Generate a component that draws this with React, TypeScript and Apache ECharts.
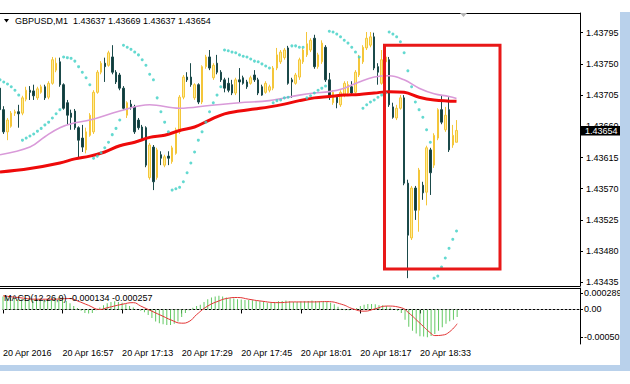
import React, { useEffect, useRef } from 'react';
import * as echarts from 'echarts';

// ---- axis / tick labels ----
const TIME_TICK_LABELS = ['20 Apr 2016', '20 Apr 16:57', '20 Apr 17:13', '20 Apr 17:29', '20 Apr 17:45', '20 Apr 18:01', '20 Apr 18:17', '20 Apr 18:33'];
const PRICE_TICKS = [1.43435, 1.4348, 1.43525, 1.4357, 1.43615, 1.4366, 1.43705, 1.4375, 1.43795];
const MACD_TICKS = [0.000289, 0, -0.000501];
const LAST_PRICE = 1.43654;
const HEADER = 'GBPUSD,M1  1.43637 1.43669 1.43637 1.43654';
const MACD_TITLE = 'MACD(12,26,9) -0.000134 -0.000257';

// ---- M1 candles (16:41 .. 18:43) ----
const OPEN = [
  1.43715, 1.43684, 1.43652, 1.4366, 1.43679, 1.43681, 1.43679, 1.43699, 1.43712, 1.43711,
  1.43701, 1.43709, 1.43717, 1.43702, 1.43722, 1.43741, 1.43753, 1.4372, 1.43694, 1.43679,
  1.43682, 1.43658, 1.43643, 1.43626, 1.43647, 1.43652, 1.43709, 1.43738, 1.43751, 1.43748,
  1.4376, 1.43738, 1.43734, 1.43715, 1.43676, 1.43692, 1.43688, 1.43669, 1.43659, 1.43658,
  1.43586, 1.4363, 1.43586, 1.43619, 1.43604, 1.43617, 1.43609, 1.43621, 1.43652, 1.43702,
  1.43731, 1.43731, 1.43701, 1.4372, 1.43695, 1.43746, 1.4376, 1.4373, 1.43751, 1.43738,
  1.43727, 1.43722, 1.4372, 1.43708, 1.43727, 1.4373, 1.43724, 1.43722, 1.43734, 1.43727,
  1.43717, 1.43709, 1.43712, 1.43715, 1.43744, 1.43753, 1.43759, 1.43773, 1.43727, 1.43722,
  1.43731, 1.43753, 1.43763, 1.4377, 1.43787, 1.43746, 1.43753, 1.43774, 1.43727, 1.43694,
  1.43702, 1.43691, 1.43705, 1.43708, 1.43717, 1.43709, 1.43734, 1.43753, 1.43773, 1.43777,
  1.43789, 1.43746, 1.43722, 1.43753, 1.43756, 1.43688, 1.43672, 1.43686, 1.43701, 1.43578,
  1.43499, 1.43571, 1.43539, 1.43575, 1.43565, 1.43626, 1.43604, 1.43643, 1.43684, 1.43655,
  1.43684, 1.43633, 1.43637,
];
const CLOSE = [
  1.43684, 1.43652, 1.43669, 1.43679, 1.43681, 1.43678, 1.43701, 1.43712, 1.43709, 1.43704,
  1.43714, 1.43717, 1.43701, 1.43722, 1.43756, 1.43751, 1.4372, 1.43686, 1.43676, 1.43673,
  1.43658, 1.4364, 1.4363, 1.43652, 1.43676, 1.43709, 1.43738, 1.43751, 1.43746, 1.43766,
  1.43738, 1.43724, 1.43715, 1.43686, 1.43694, 1.43688, 1.43652, 1.43658, 1.43643, 1.43604,
  1.43633, 1.4358, 1.43626, 1.43614, 1.43616, 1.43614, 1.43629, 1.43655, 1.43702, 1.43731,
  1.43727, 1.4372, 1.4372, 1.43695, 1.43746, 1.4376, 1.43744, 1.43748, 1.43738, 1.43727,
  1.43715, 1.43712, 1.43708, 1.43727, 1.43724, 1.43722, 1.43717, 1.4373, 1.43727, 1.43708,
  1.43705, 1.43722, 1.43717, 1.43744, 1.43763, 1.43767, 1.4377, 1.43722, 1.43724, 1.43734,
  1.43756, 1.4377, 1.43779, 1.43784, 1.43746, 1.43763, 1.4378, 1.43727, 1.43702, 1.43709,
  1.43694, 1.43709, 1.43722, 1.4372, 1.43708, 1.43738, 1.43759, 1.43774, 1.43787, 1.43789,
  1.43744, 1.43738, 1.43756, 1.4376, 1.43691, 1.43673, 1.43686, 1.43701, 1.43578, 1.43503,
  1.43571, 1.43539, 1.43597, 1.43564, 1.43629, 1.43593, 1.43647, 1.43684, 1.43666, 1.43676,
  1.43626, 1.43647, 1.43654,
];
const HIGH = [
  1.4372, 1.43689, 1.43672, 1.43682, 1.43684, 1.43691, 1.43704, 1.43717, 1.43718, 1.4372,
  1.43717, 1.4372, 1.4372, 1.43725, 1.4376, 1.43759, 1.43759, 1.43722, 1.43698, 1.43684,
  1.43685, 1.4366, 1.43662, 1.43658, 1.43679, 1.43712, 1.43741, 1.43754, 1.43759, 1.43769,
  1.43777, 1.43741, 1.43737, 1.43718, 1.43696, 1.43698, 1.43691, 1.43672, 1.43662, 1.4366,
  1.43636, 1.43633, 1.43629, 1.43624, 1.43619, 1.43624, 1.43632, 1.43658, 1.43705, 1.43734,
  1.43738, 1.43751, 1.43722, 1.43722, 1.43748, 1.43763, 1.4377, 1.43751, 1.43763, 1.43741,
  1.4373, 1.4373, 1.43727, 1.4373, 1.43744, 1.43733, 1.43727, 1.43733, 1.43741, 1.4373,
  1.4372, 1.43725, 1.4372, 1.43747, 1.43773, 1.4377, 1.43773, 1.43776, 1.4373, 1.43737,
  1.43759, 1.43773, 1.43796, 1.43787, 1.43792, 1.43766, 1.43784, 1.43777, 1.43737, 1.43712,
  1.43705, 1.43712, 1.43725, 1.43725, 1.43725, 1.43741, 1.43763, 1.43777, 1.43796, 1.43796,
  1.43795, 1.43751, 1.4377, 1.4377, 1.4376, 1.43694, 1.43691, 1.43705, 1.43705, 1.43583,
  1.43574, 1.43574, 1.436, 1.4358, 1.43632, 1.43629, 1.4365, 1.43686, 1.43705, 1.43688,
  1.43702, 1.43662, 1.43669,
];
const LOW = [
  1.43681, 1.43649, 1.4364, 1.43658, 1.43675, 1.43658, 1.43676, 1.43696, 1.43698, 1.43698,
  1.43698, 1.43707, 1.43698, 1.43699, 1.4372, 1.43738, 1.43717, 1.43684, 1.43662, 1.43655,
  1.43655, 1.43614, 1.43623, 1.43621, 1.43645, 1.43649, 1.43707, 1.43735, 1.43724, 1.43746,
  1.43735, 1.43721, 1.43712, 1.43684, 1.43672, 1.43684, 1.43649, 1.43655, 1.4364, 1.43601,
  1.43583, 1.43568, 1.43583, 1.43604, 1.43601, 1.43604, 1.43606, 1.43619, 1.43649, 1.43699,
  1.43724, 1.43717, 1.43698, 1.43692, 1.43692, 1.43743, 1.43741, 1.43727, 1.43735, 1.43724,
  1.43709, 1.43709, 1.43705, 1.43705, 1.43694, 1.4372, 1.43714, 1.4372, 1.43724, 1.43705,
  1.43704, 1.43707, 1.43709, 1.43712, 1.43741, 1.4375, 1.43756, 1.4372, 1.43701, 1.4372,
  1.43727, 1.4375, 1.4376, 1.43767, 1.43743, 1.43743, 1.4375, 1.43724, 1.43698, 1.43691,
  1.43686, 1.43688, 1.43702, 1.43705, 1.43705, 1.43707, 1.43731, 1.4375, 1.4377, 1.43774,
  1.43741, 1.4372, 1.4372, 1.43741, 1.43688, 1.43671, 1.43669, 1.43684, 1.43575, 1.43441,
  1.43496, 1.43525, 1.43508, 1.43554, 1.43546, 1.43561, 1.436, 1.4364, 1.43663, 1.43652,
  1.43623, 1.43629, 1.43637,
];

// ---- Parabolic SAR, one dot per candle ----
const SAR = [
  1.43727, 1.43724, 1.43721, 1.43717, 1.43712, 1.43705, 1.4364, 1.43643, 1.43646, 1.43649,
  1.43653, 1.43657, 1.43662, 1.43666, 1.43672, 1.43678, 1.43684, 1.4376, 1.43759, 1.43758,
  1.43754, 1.43746, 1.43738, 1.4373, 1.4372, 1.43614, 1.43617, 1.43622, 1.43629, 1.43637,
  1.43648, 1.43657, 1.43669, 1.43777, 1.43774, 1.43771, 1.43767, 1.43763, 1.43756, 1.43748,
  1.43735, 1.43727, 1.43701, 1.43681, 1.43666, 1.43652, 1.43568, 1.4357, 1.43572, 1.4358,
  1.43593, 1.43607, 1.43623, 1.4364, 1.43652, 1.43666, 1.43681, 1.43694, 1.43705, 1.43717,
  1.4377, 1.43769, 1.43767, 1.43766, 1.43763, 1.43761, 1.4376, 1.43757, 1.43754, 1.43753,
  1.4375, 1.43747, 1.43744, 1.43694, 1.43697, 1.43698, 1.43701, 1.43702, 1.43776, 1.43776,
  1.43774, 1.43774, 1.43701, 1.43704, 1.43708, 1.43712, 1.43715, 1.43718, 1.43797, 1.43796,
  1.43793, 1.43789, 1.43784, 1.4378, 1.43774, 1.43767, 1.4376, 1.43686, 1.43691, 1.43695,
  1.43698, 1.43702, 1.43705, 1.43708, 1.43796, 1.43793, 1.43789, 1.43782, 1.43766, 1.4374,
  1.43717, 1.43695, 1.43684, 1.43673, 1.43655, 1.43637, 1.43441, 1.43444, 1.43457, 1.4347,
  1.43484, 1.43497, 1.43509,
];

// ---- moving averages, read at sample candles ----
const RED_MA_IDX = [0, 8, 16, 20, 24, 28, 32, 36, 40, 44, 48, 52, 56, 60, 64, 68, 72, 76, 80, 84, 88, 92, 96, 100, 104, 108, 112, 116, 122];
const RED_MA = [1.43594, 1.43599, 1.43607, 1.43613, 1.43617, 1.43623, 1.43632, 1.43637, 1.43644, 1.43647, 1.43654, 1.43659, 1.43669, 1.43678, 1.43682, 1.43685, 1.43688, 1.43692, 1.43697, 1.43701, 1.43703, 1.43705, 1.43706, 1.43708, 1.4371, 1.43709, 1.43702, 1.43698, 1.43696];
const PLUM_MA_IDX = [0, 8, 12, 16, 20, 24, 32, 40, 48, 56, 64, 72, 80, 84, 88, 92, 96, 100, 104, 108, 112, 116, 120, 122];
const PLUM_MA = [1.43619, 1.4363, 1.43645, 1.43658, 1.43665, 1.43669, 1.43682, 1.43691, 1.43686, 1.4369, 1.43694, 1.43697, 1.43705, 1.43708, 1.4371, 1.43715, 1.43724, 1.43731, 1.43733, 1.43727, 1.43715, 1.43707, 1.43703, 1.437];

// ---- MACD ----
const MACD_MAIN = [
  0.000234, 0.000222, 0.00021, 0.000197, 0.000185, 0.000185, 0.000185, 0.000185, 0.000185, 0.000185,
  0.000173, 0.000173, 0.000173, 0.000185, 0.00021, 0.000222, 0.00021, 0.000154, 0.000111, 0.000062,
  0.000025, -0.000025, -0.000062, -0.000074, -0.000062, -0.000012, 0.000037, 0.000074, 0.000111, 0.000136,
  0.000148, 0.000136, 0.000123, 0.000093, 0.000062, 0.000037, 0.0, -0.000025, -0.000049, -0.000099,
  -0.000154, -0.000216, -0.000247, -0.000265, -0.000278, -0.000278, -0.000259, -0.000216, -0.000136, -0.000062,
  -0.000012, 0.000031, 0.000062, 0.000086, 0.000136, 0.000185, 0.000216, 0.000234, 0.000247, 0.000234,
  0.000216, 0.000204, 0.000197, 0.000185, 0.000179, 0.000173, 0.000173, 0.000167, 0.00016, 0.000148,
  0.000136, 0.000123, 0.000123, 0.000136, 0.000148, 0.000154, 0.00016, 0.000148, 0.000136, 0.000136,
  0.000142, 0.000148, 0.000154, 0.00016, 0.000154, 0.000148, 0.000148, 0.000136, 0.000123, 0.000093,
  0.000049, 0.000012, -0.000012, -0.000012, 0.0, 0.000025, 0.000062, 0.000086, 0.000099, 0.000099,
  0.000093, 0.000074, 0.000074, 0.000062, 0.000037, 0.0, -0.000025, -0.000062, -0.000185, -0.000309,
  -0.000383, -0.000432, -0.000481, -0.000488, -0.000501, -0.00048, -0.000444, -0.000383, -0.000321, -0.000259,
  -0.00021, -0.000185, -0.000134,
];
const SIGNAL_IDX = [0, 4, 9, 13, 18, 20, 23, 26, 28, 32, 35, 37, 40, 43, 45, 48, 50, 52, 55, 58, 60, 63, 66, 69, 74, 78, 83, 87, 91, 94, 97, 100, 103, 107, 109, 112, 115, 116, 118, 120, 122];
const SIGNAL = [0.000247, 0.000216, 0.000185, 0.000185, 0.000197, 0.000154, 0.000074, 0.0, 0.000031, 0.000093, 0.000123, 0.000062, -0.000031, -0.000123, -0.000185, -0.000247, -0.000216, -0.000093, 0.000062, 0.000154, 0.000197, 0.000216, 0.000185, 0.000154, 0.000123, 0.000136, 0.000136, 0.000142, 0.000093, 0.000012, -0.000031, 0.000012, 0.000062, 0.000031, -0.000062, -0.000247, -0.000432, -0.00047, -0.000462, -0.0004, -0.000257];

// 156 one-minute slots from 16:41 (chart shift area included)
const SLOT_COUNT = 156;
const CATEGORIES = Array.from({ length: SLOT_COUNT }, (_, i) => {
  const m = 16 * 60 + 41 + i;
  return `${Math.floor(m / 60)}:${String(m % 60).padStart(2, '0')}`;
});

const FONT = '"Liberation Sans", Arial, sans-serif';

function buildGraphics(priceY: number | null) {
  const g: any[] = [
    { id: 'fTop', type: 'line', shape: { x1: 0, y1: 13.5, x2: 580.5, y2: 13.5 }, style: { stroke: '#000', lineWidth: 1 }, z: 10 },
    { id: 'fMacd', type: 'line', shape: { x1: 0, y1: 288.5, x2: 580.5, y2: 288.5 }, style: { stroke: '#000', lineWidth: 1 }, z: 10 },
    { id: 'bRight', type: 'rect', shape: { x: 620, y: 12, width: 10, height: 359 }, style: { fill: '#b9d1eb' }, z: 10 },
    { id: 'bBottom', type: 'rect', shape: { x: 0, y: 365, width: 630, height: 6 }, style: { fill: '#b9d1eb' }, z: 10 },
    { id: 'shift', type: 'polygon', shape: { points: [[460, 13], [467, 13], [463.5, 17]] }, style: { fill: '#b4b4b4' }, z: 10 },
    { id: 'tri', type: 'polygon', shape: { points: [[4, 19], [9, 19], [6.5, 22.5]] }, style: { fill: '#000' }, z: 10 },
    {
      id: 'header', type: 'text', x: 15, y: 21, z: 10,
      style: { text: HEADER, fill: '#000', fontSize: 9, fontFamily: FONT, verticalAlign: 'middle', align: 'left' },
    },
    {
      id: 'macdTitle', type: 'text', x: 4, y: 297.5, z: 10,
      style: { text: MACD_TITLE, fill: '#000', fontSize: 9, fontFamily: FONT, verticalAlign: 'middle', align: 'left' },
    },
    {
      id: 'box', type: 'rect', z: 11,
      shape: { x: 384.5, y: 45.3, width: 115.5, height: 223.7 },
      style: { fill: 'none', stroke: '#e81818', lineWidth: 3 },
    },
  ];
  if (priceY !== null) {
    g.push(
      { id: 'tagBg', type: 'rect', shape: { x: 581, y: priceY - 4.5, width: 39, height: 9.5 }, style: { fill: '#000' }, z: 20 },
      {
        id: 'tagText', type: 'text', x: 585, y: priceY + 0.3, z: 21,
        style: { text: LAST_PRICE.toFixed(5), fill: '#fff', fontSize: 9, fontFamily: FONT, verticalAlign: 'middle', align: 'left' },
      },
    );
  }
  return g;
}

function buildOption() {
  const candles = OPEN.map((o, i) => [o, CLOSE[i], LOW[i], HIGH[i]]);
  const showTime = (index: number) => index % 16 === 0 && index / 16 < TIME_TICK_LABELS.length;
  return {
    animation: false,
    backgroundColor: '#ffffff',
    textStyle: { fontFamily: FONT },
    grid: [
      { left: 0, right: 50, top: 13, height: 273 },
      { left: 0, right: 50, top: 288, height: 56 },
    ],
    xAxis: [
      {
        type: 'category', gridIndex: 0, data: CATEGORIES, boundaryGap: false,
        axisLine: { show: true, lineStyle: { color: '#000', width: 1 } },
        axisTick: { show: false }, axisLabel: { show: false }, splitLine: { show: false },
      },
      {
        type: 'category', gridIndex: 1, data: CATEGORIES, boundaryGap: false,
        axisLine: { show: true, lineStyle: { color: '#000', width: 1 } },
        axisTick: { show: true, length: 4, interval: (i: number) => showTime(i), lineStyle: { color: '#000' } },
        axisLabel: {
          show: true, interval: (i: number) => showTime(i), align: 'left', margin: 4,
          fontSize: 9, fontFamily: FONT, color: '#000',
          formatter: (_v: string, i: number) => (showTime(i) ? TIME_TICK_LABELS[i / 16] : ''),
        },
        splitLine: { show: false },
      },
    ],
    yAxis: [
      {
        type: 'value', gridIndex: 0, position: 'right', min: 1.434297, max: 1.438234, scale: true,
        axisLine: { show: true, lineStyle: { color: '#000', width: 1 } },
        axisTick: { show: true, length: 3, customValues: PRICE_TICKS, lineStyle: { color: '#000' } },
        axisLabel: {
          customValues: PRICE_TICKS, margin: 6, fontSize: 9, fontFamily: FONT, color: '#000',
          formatter: (v: number) => v.toFixed(5),
        },
        splitLine: { show: false },
      },
      {
        type: 'value', gridIndex: 1, position: 'right', min: -0.000622, max: 0.000387,
        axisLine: { show: true, lineStyle: { color: '#000', width: 1 } },
        axisTick: { show: true, length: 3, customValues: MACD_TICKS, lineStyle: { color: '#000' } },
        axisLabel: {
          customValues: MACD_TICKS, margin: 4, fontSize: 9, fontFamily: FONT, color: '#000',
          formatter: (v: number) => (v === 0 ? '0.00' : v.toFixed(6)),
        },
        splitLine: { show: false },
      },
    ],
    series: [
      {
        type: 'candlestick', xAxisIndex: 0, yAxisIndex: 0, data: candles, barWidth: 2, z: 2,
        itemStyle: {
          color: '#ffec94', borderColor: '#f4c63a',
          color0: '#113a3a', borderColor0: '#1b4a4a', borderWidth: 1,
        },
        markLine: {
          silent: true, symbol: ['none', 'none'], z: 1,
          data: [{ yAxis: LAST_PRICE }],
          lineStyle: { color: '#c8c8c8', width: 1, type: 'solid' },
          label: { show: false },
        },
      },
      {
        type: 'line', xAxisIndex: 0, yAxisIndex: 0, z: 3, symbol: 'none', smooth: 0.4,
        data: PLUM_MA_IDX.map((x, k) => [x, PLUM_MA[k]]),
        lineStyle: { color: '#d99ad9', width: 1.6 },
      },
      {
        type: 'line', xAxisIndex: 0, yAxisIndex: 0, z: 4, symbol: 'none', smooth: 0.4,
        data: RED_MA_IDX.map((x, k) => [x, RED_MA[k]]),
        lineStyle: { color: '#ee0a0a', width: 3 },
      },
      {
        type: 'scatter', xAxisIndex: 0, yAxisIndex: 0, z: 5, symbol: 'circle', symbolSize: 3,
        data: SAR.map((v, i) => [i, v]),
        itemStyle: { color: '#3ccfc4' },
      },
      {
        type: 'bar', xAxisIndex: 1, yAxisIndex: 1, z: 2, barWidth: 1,
        data: MACD_MAIN.map((v, i) => [i, v]),
        itemStyle: { color: '#63c963' },
        markLine: {
          silent: true, symbol: ['none', 'none'], z: 1,
          data: [{ yAxis: 0 }],
          lineStyle: { color: '#a8a8a8', width: 1, type: [2, 2] },
          label: { show: false },
        },
      },
      {
        type: 'line', xAxisIndex: 1, yAxisIndex: 1, z: 3, symbol: 'none', smooth: 0.5,
        data: SIGNAL_IDX.map((x, k) => [x, SIGNAL[k]]),
        lineStyle: { color: '#e23434', width: 1 },
      },
    ],
    graphic: buildGraphics(null),
  };
}

export default function App() {
  const ref = useRef<HTMLDivElement>(null);
  useEffect(() => {
    if (!ref.current) return;
    const chart = echarts.init(ref.current, null, { renderer: 'svg' });
    chart.setOption(buildOption() as any);
    // current-price tag on the price scale, placed with the axis scale
    const py = chart.convertToPixel({ yAxisIndex: 0 }, LAST_PRICE) as number;
    if (typeof py === 'number' && isFinite(py)) {
      chart.setOption({ graphic: buildGraphics(py) } as any);
    }
    return () => chart.dispose();
  }, []);
  return (
    <div
      ref={ref}
      style={{ position: 'absolute', left: 0, top: 0, width: 630, height: 384, background: '#fff' }}
    />
  );
}
